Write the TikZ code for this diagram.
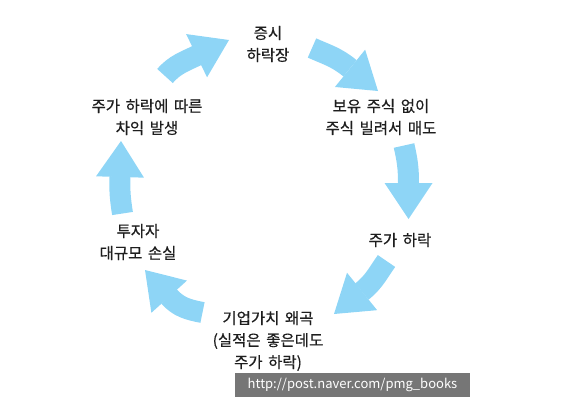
\documentclass[tikz,border=0pt]{standalone}
\usepackage{fontspec}
\setmainfont{Noto Sans CJK KR}[FakeBold=0.5,WordSpace=1.6]
\newfontfamily\urlfont{Noto Sans CJK KR}
\usetikzlibrary{arrows.meta}
\definecolor{skyblue}{RGB}{142,213,246}
\definecolor{txtgray}{RGB}{30,30,30}
\definecolor{urlgray}{RGB}{118,118,118}
\begin{document}
\begin{tikzpicture}[
            x=1pt,y=1pt,
            every node/.style={
                inner sep=0pt,align=center,text=txtgray,
                font=\fontsize{15.5}{22}\selectfont
            },
            cyclearrow/.style={
                draw=skyblue,line width=21pt,line cap=butt,
                -{Triangle[length=36pt,width=48pt,line width=0pt,fill=skyblue]}
            }
        ]
    \useasboundingbox (0,0) rectangle (568,-405);
    % Labels
        \node (crash) at (268,-44) {증시\\하락장};
        \node (short) at (381,-117) {보유 주식 없이\\주식 빌려서 매도};
        \node (fall) at (400,-240) {주가 하락};
        \node (value) at (268,-341) {기업가치 왜곡\\(실적은 좋은데도\\주가 하락)};
        \node (loss) at (138,-242) {투자자\\대규모 손실};
        \node (gain) at (147,-117) {주가 하락에 따른\\차익 발생};
    % Arrow ends (tail, head base, tip)
        \coordinate (gainT) at (165,-76);  \coordinate (gainB) at (198,-55);  \coordinate (gainH) at (229,-40);
        \coordinate (crashT) at (312,-48); \coordinate (crashB) at (349,-67.5); \coordinate (crashH) at (378,-91);
        \coordinate (shortT) at (404,-145.5); \coordinate (shortB) at (408.5,-183); \coordinate (shortH) at (408.5,-219);
        \coordinate (fallT) at (386.5,-261); \coordinate (fallB) at (362,-291.5); \coordinate (fallH) at (334,-314);
        \coordinate (valueT) at (202.5,-312.5); \coordinate (valueB) at (169,-296.5); \coordinate (valueH) at (145,-270);
        \coordinate (lossT) at (122.5,-213.5); \coordinate (lossB) at (120,-177); \coordinate (lossH) at (121,-141);
    % Arrows
        \draw[cyclearrow] (gainT) to[out=49,in=206] (gainB) -- (gainH);
        \draw[cyclearrow] (crashT) to[out=-24,in=141] (crashB) -- (crashH);
        \draw[cyclearrow] (shortT) to[out=-77,in=90] (shortB) -- (shortH);
        \draw[cyclearrow] (fallT) to[out=235,in=39] (fallB) -- (fallH);
        \draw[cyclearrow] (valueT) to[out=169,in=-48] (valueB) -- (valueH);
        \draw[cyclearrow] (lossT) to[out=99,in=268] (lossB) -- (lossH);
    % Source
        \node[fill=urlgray,text=white,minimum width=235pt,minimum height=24pt,
              font=\urlfont\fontsize{13}{15}\selectfont] (url) at (352.5,-385) {http://post.naver.com/pmg\_books};
\end{tikzpicture}
\end{document}
